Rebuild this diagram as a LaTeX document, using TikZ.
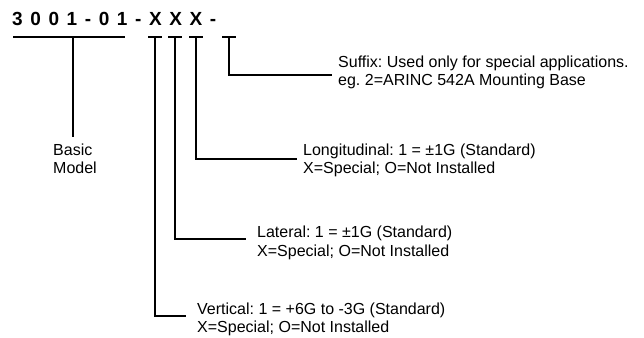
\documentclass[tikz,border=0pt]{standalone}
\usepackage{fontspec}
\setmainfont{Liberation Sans}
\frenchspacing
\usetikzlibrary{positioning}
\tikzstyle{rama} = [line width=2pt]
\tikzstyle{etiqueta} = [inner sep=0pt, align=left, anchor=base west, font=\fontsize{16}{18.5}\selectfont]
\tikzstyle{codigo} = [inner sep=0pt, anchor=base west, font=\fontsize{19}{22}\selectfont\bfseries\addfontfeature{LetterSpace=40}]
\begin{document}
\begin{tikzpicture}[x=1pt,y=-1pt]
		\useasboundingbox (0,0) rectangle (644,337);
		\node[codigo] (cod) at (12,26) {3001-01-XXX-};
		% modelo basico
		\coordinate (mi) at (13,37);
		\coordinate (md) at (125,37);
		\coordinate (mb) at (73,37);
		\coordinate (mf) at (73,137);
		\draw[rama] (mi) -- (md);
		\draw[rama] (mb) -- (mf);
		\node[etiqueta] (basico) at (53,173.5) {Basic\\Model};
		% barras en T
		\foreach \nombre/\x in {ver/155, lat/175, lon/196, suf/229}{
			\coordinate (t\nombre) at (\x,37);
			\draw[rama] ([xshift=-7pt]t\nombre) -- ([xshift=7pt]t\nombre);
		}
		% ramas
		\coordinate (esuf) at (332,75);
		\coordinate (elon) at (297,159);
		\coordinate (elat) at (246,239);
		\coordinate (ever) at (186,316);
		\draw[rama] (tsuf) |- (esuf);
		\draw[rama] (tlon) |- (elon);
		\draw[rama] (tlat) |- (elat);
		\draw[rama] (tver) |- (ever);
		% textos (base = ultima linea)
		\node[etiqueta] (suf) at (338,85.5) {Suffix: Used only for special applications.\\eg. 2=ARINC 542A Mounting Base};
		\node[etiqueta] (lon) at (303,173.5) {Longitudinal: 1 = ±1G (Standard)\\X=Special; O=Not Installed};
		\node[etiqueta] (lat) at (257,256) {Lateral: 1 = ±1G (Standard)\\X=Special; O=Not Installed};
		\node[etiqueta] (ver) at (197,332.5) {Vertical: 1 = +6G to -3G (Standard)\\X=Special; O=Not Installed};
	\end{tikzpicture}
\end{document}
